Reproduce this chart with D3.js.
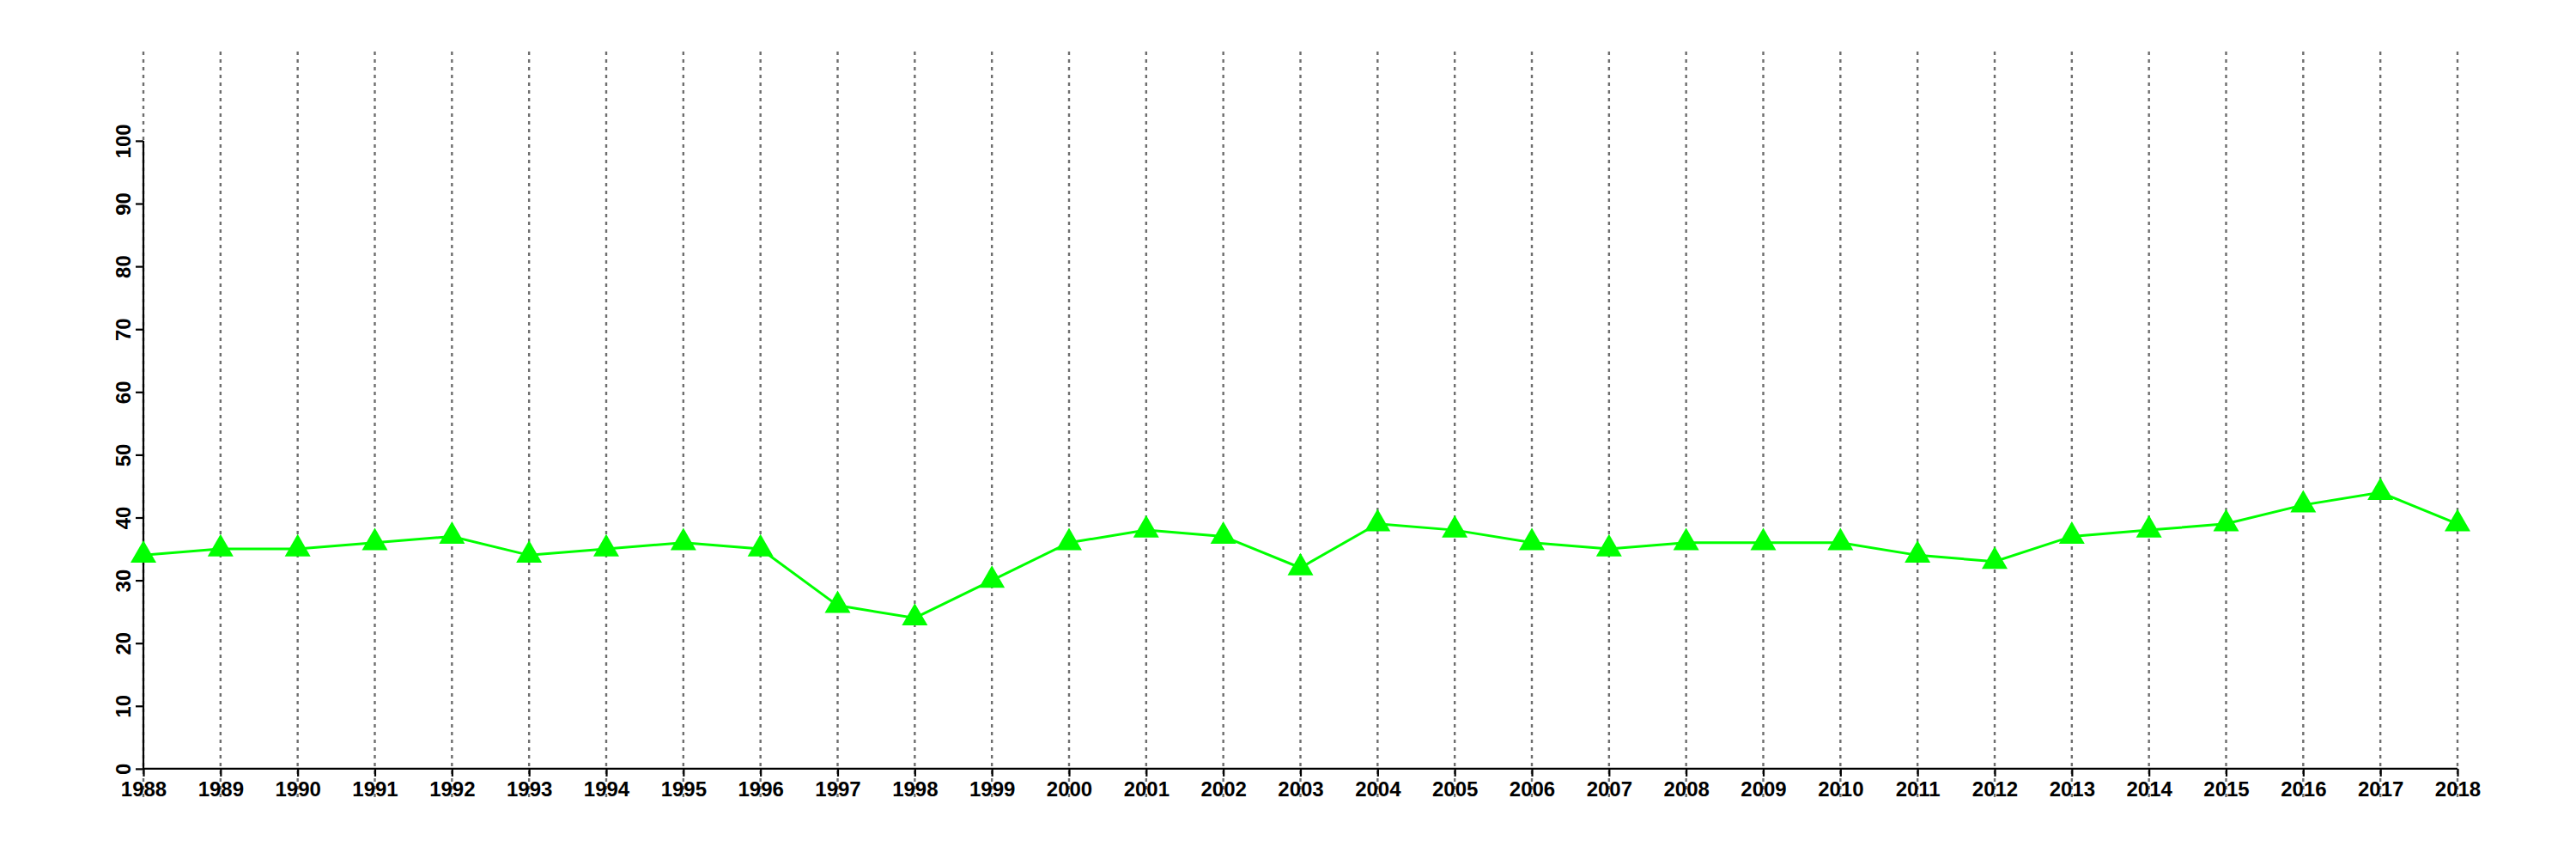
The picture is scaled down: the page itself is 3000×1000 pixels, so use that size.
<!DOCTYPE html>
<html>
<head>
<meta charset="utf-8">
<script src="https://cdn.jsdelivr.net/npm/d3@7"></script>
<style>
  html, body { margin: 0; padding: 0; background: #ffffff; }
  svg { display: block; }
  text { font-family: "Liberation Sans", Arial, Helvetica, sans-serif; font-weight: bold; }
</style>
</head>
<body>
<svg id="chart" width="3000" height="1000"></svg>
<script>
const years = [1988,1989,1990,1991,1992,1993,1994,1995,1996,1997,1998,1999,2000,2001,2002,2003,2004,2005,2006,2007,2008,2009,2010,2011,2012,2013,2014,2015,2016,2017,2018];
const values = [34,35,35,36,37,34,35,36,35,26,24,30,36,38,37,32,39,38,36,35,36,36,36,34,33,37,38,39,42,44,39];
const yTicks = [0,10,20,30,40,50,60,70,80,90,100];

const svg = d3.select("#chart");
svg.append("rect").attr("width", 3000).attr("height", 1000).attr("fill", "#ffffff");

const x = d3.scaleLinear().domain([1988, 2018]).range([167, 2862]);
const y = d3.scaleLinear().domain([0, 100]).range([894.9, 163.9]);

// vertical dotted grid lines
svg.append("g").selectAll("line").data(years).join("line")
  .attr("x1", d => x(d)).attr("x2", d => x(d))
  .attr("y1", 60).attr("y2", 928)
  .attr("stroke", "#6e6e6e").attr("stroke-width", 2.4)
  .attr("stroke-dasharray", "4,5");

// x axis
const xAxis = d3.axisBottom(x).tickValues(years).tickFormat(d3.format("d")).tickSize(9).tickPadding(6);
const gx = svg.append("g").attr("transform", `translate(0,${y(0)})`).call(xAxis);
gx.select(".domain").attr("stroke", "#000").attr("stroke-width", 2.2)
  .attr("d", `M${x(1988)},0H${x(2018)}`);
gx.selectAll(".tick line").attr("stroke", "#000").attr("stroke-width", 2.2);
gx.selectAll(".tick text").attr("fill", "#000").attr("font-size", 24).attr("dy", "0.71em");

// y axis
const yAxis = d3.axisLeft(y).tickValues(yTicks).tickFormat(d3.format("d")).tickSize(9);
const gy = svg.append("g").attr("transform", `translate(${x(1988)},0)`).call(yAxis);
gy.select(".domain").attr("stroke", "#000").attr("stroke-width", 2.2)
  .attr("d", `M0,${y(0)}V${y(100)}`);
gy.selectAll(".tick line").attr("stroke", "#000").attr("stroke-width", 2.2);
gy.selectAll(".tick text")
  .attr("fill", "#000").attr("font-size", 24)
  .attr("x", null).attr("dy", null)
  .attr("text-anchor", "middle")
  .attr("transform", "translate(-15,0) rotate(-90)");

// line
const line = d3.line().x((d, i) => x(years[i])).y(d => y(d));
svg.append("path").datum(values)
  .attr("d", line)
  .attr("fill", "none")
  .attr("stroke", "#00ff00")
  .attr("stroke-width", 3);

// triangle markers
const tri = d3.symbol().type(d3.symbolTriangle).size(390);
svg.append("g").selectAll("path").data(values).join("path")
  .attr("d", tri)
  .attr("transform", (d, i) => `translate(${x(years[i])},${y(d)})`)
  .attr("fill", "#00ff00");
</script>
</body>
</html>
